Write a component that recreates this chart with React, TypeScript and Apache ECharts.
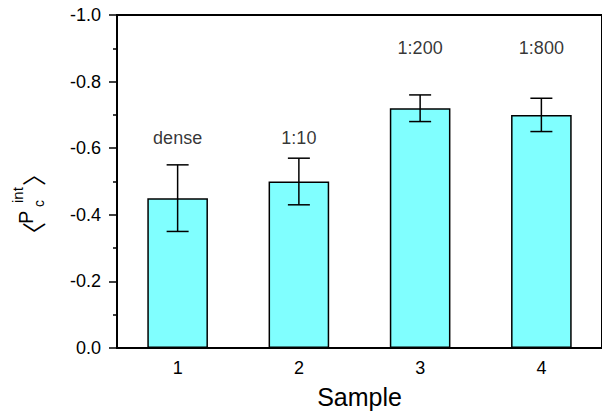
import React, { useEffect, useRef } from "react";
import * as echarts from "echarts";

const categories = ["1", "2", "3", "4"];
const values = [-0.45, -0.5, -0.72, -0.7];
const errors = [0.1, 0.07, 0.04, 0.05];
const annotationTexts = ["dense", "1:10", "1:200", "1:800"];
const annotationY = [-0.63, -0.63, -0.9, -0.9];
const yTicks = { min: -1, max: 0, interval: 0.2 };

const FONT = "'Liberation Sans', Arial, sans-serif";
const CJK = "'Noto Sans CJK SC'";

export default function App() {
  const ref = useRef<HTMLDivElement>(null);
  useEffect(() => {
    if (!ref.current) return;
    const chart = echarts.init(ref.current, undefined, { renderer: "svg" });
    const errData = values.map((v, i) => [i, v - errors[i], v + errors[i]]);
    const annData = annotationY.map((y, i) => [i, y]);
    chart.setOption({
      animation: false,
      textStyle: { fontFamily: FONT },
      grid: {
        left: 117,
        top: 15,
        right: -9,
        bottom: 69,
        show: true,
        borderColor: "#000",
        borderWidth: 2,
        backgroundColor: "transparent",
      },
      xAxis: {
        type: "category",
        data: categories,
        boundaryGap: true,
        axisLine: { show: true, lineStyle: { color: "#000", width: 2 } },
        axisTick: { show: false },
        axisLabel: { color: "#000", fontSize: 18, fontFamily: FONT, margin: 11 },
        name: "Sample",
        nameLocation: "middle",
        nameGap: 36,
        nameTextStyle: { color: "#000", fontSize: 25, fontFamily: FONT },
        splitLine: { show: false },
      },
      yAxis: {
        type: "value",
        min: yTicks.min,
        max: yTicks.max,
        interval: yTicks.interval,
        inverse: true,
        axisLine: { show: true, lineStyle: { color: "#000", width: 2 } },
        axisTick: { show: true, length: 8, lineStyle: { color: "#000", width: 1.5 } },
        minorTick: { show: true, splitNumber: 2, length: 4, lineStyle: { color: "#000", width: 1.5 } },
        axisLabel: {
          color: "#000",
          fontSize: 18,
          fontFamily: FONT,
          margin: 16,
          formatter: (v: number) => (Math.abs(v) < 1e-9 ? "0.0" : v.toFixed(1)),
        },
        splitLine: { show: false },
      },
      graphic: [
        {
          type: "group",
          x: 33,
          y: 233,
          rotation: Math.PI / 2,
          children: [
            { type: "text", x: -13, y: -1, style: { text: "〈", fontSize: 24, fontFamily: CJK, fill: "#000", align: "left", verticalAlign: "middle" } },
            { type: "text", x: 9, y: -7, style: { text: "P", fontSize: 20, fontFamily: FONT, fill: "#000", align: "left", verticalAlign: "middle" } },
            { type: "text", x: 26, y: 5.5, style: { text: "c", fontSize: 14, fontFamily: FONT, fill: "#000", align: "left", verticalAlign: "middle" } },
            { type: "text", x: 30, y: -16, style: { text: "int", fontSize: 15, fontFamily: FONT, fill: "#000", align: "left", verticalAlign: "middle" } },
            { type: "text", x: 47, y: -1, style: { text: "〉", fontSize: 24, fontFamily: CJK, fill: "#000", align: "left", verticalAlign: "middle" } },
          ],
        },
      ],
      series: [
        {
          type: "bar",
          data: values,
          barWidth: "50%",
          itemStyle: { color: "#80FFFF", borderColor: "#000", borderWidth: 1.5 },
          z: 2,
        },
        {
          type: "custom",
          data: errData,
          z: 3,
          renderItem: (params: any, api: any) => {
            const x = api.value(0);
            const lo = api.coord([x, api.value(1)]);
            const hi = api.coord([x, api.value(2)]);
            const hw = 11;
            const style = { stroke: "#000", lineWidth: 1.5 };
            return {
              type: "group",
              children: [
                { type: "line", shape: { x1: lo[0], y1: lo[1], x2: hi[0], y2: hi[1] }, style },
                { type: "line", shape: { x1: lo[0] - hw, y1: lo[1], x2: lo[0] + hw, y2: lo[1] }, style },
                { type: "line", shape: { x1: hi[0] - hw, y1: hi[1], x2: hi[0] + hw, y2: hi[1] }, style },
              ],
            };
          },
        },
        {
          type: "scatter",
          data: annData,
          symbolSize: 0,
          z: 4,
          label: {
            show: true,
            position: "inside",
            color: "#000",
            fontSize: 18,
            fontFamily: FONT,
            textBorderWidth: 0,
            formatter: (p: any) => annotationTexts[p.dataIndex],
          },
        },
      ],
    });
    return () => chart.dispose();
  }, []);
  return <div ref={ref} style={{ position: "absolute", left: 0, top: 0, width: 602, height: 417 }} />;
}
